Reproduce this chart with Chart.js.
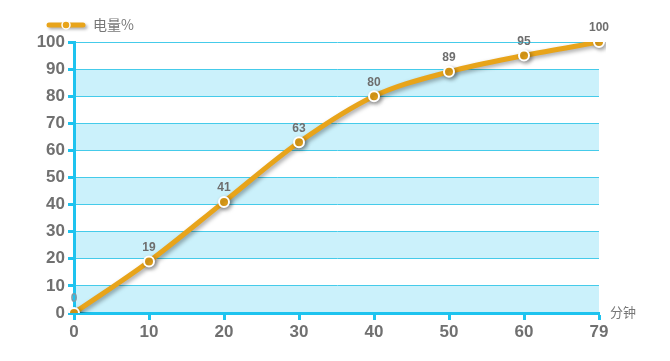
<!DOCTYPE html>
<html>
<head>
<meta charset="utf-8">
<script src="https://cdn.jsdelivr.net/npm/chart.js@4/dist/chart.umd.min.js"></script>
<style>
  body { margin: 0; background: #fff; }
</style>
</head>
<body>
<canvas id="chart" width="670" height="361"></canvas>
<script>
// chart data
var minutes = ["0", "10", "20", "30", "40", "50", "60", "79"];
var charge = [0, 19, 41, 63, 80, 89, 95, 100];
var series_name = "电量%";
var x_title = "分钟";

var line_color = "#E8A41A";
var axis_color = "#1EC3EF";
var grid_color = "#45CBEA";
var band_color = "#CBF1FB";

// light blue bands on every other step
var bands_plugin = {
  id: "bands",
  beforeDraw: function (chart) {
    var ctx = chart.ctx;
    var y = chart.scales.y;
    var area = chart.chartArea;
    ctx.save();
    ctx.fillStyle = band_color;
    for (var v = 0; v < 100; v += 20) {
      var top = y.getPixelForValue(v + 10);
      var bottom = y.getPixelForValue(v);
      ctx.fillRect(area.left, top, area.right - area.left, bottom - top);
    }
    ctx.restore();
  }
};

// shadow under the line
var shadow_plugin = {
  id: "shadow",
  beforeDatasetsDraw: function (chart) {
    var ctx = chart.ctx;
    ctx.save();
    ctx.shadowColor = "rgba(0,0,0,0.35)";
    ctx.shadowBlur = 4;
    ctx.shadowOffsetX = 2;
    ctx.shadowOffsetY = 2;
  },
  afterDatasetsDraw: function (chart) {
    chart.ctx.restore();
  }
};

// value labels, legend and axis title
var labels_plugin = {
  id: "labels",
  afterDraw: function (chart) {
    var ctx = chart.ctx;
    var meta = chart.getDatasetMeta(0);
    ctx.save();
    ctx.font = "bold 12px Arial, 'Liberation Sans', sans-serif";
    ctx.fillStyle = "#6E6E6E";
    ctx.textAlign = "center";
    ctx.textBaseline = "bottom";
    $each(meta.data, function (i, pt) {
      ctx.fillStyle = i === 0 ? "#7E9AA6" : "#6E6E6E";
      ctx.fillText(String(charge[i]), pt.x, pt.y - 8);
    });

    // legend
    ctx.lineCap = "round";
    ctx.strokeStyle = line_color;
    ctx.lineWidth = 5;
    ctx.shadowColor = "rgba(0,0,0,0.3)";
    ctx.shadowBlur = 3;
    ctx.shadowOffsetX = 2;
    ctx.shadowOffsetY = 2;
    ctx.beginPath();
    ctx.moveTo(49, 25);
    ctx.lineTo(83, 25);
    ctx.stroke();
    ctx.shadowColor = "transparent";
    ctx.beginPath();
    ctx.arc(66, 25, 4, 0, Math.PI * 2);
    ctx.fillStyle = line_color;
    ctx.fill();
    ctx.lineWidth = 1.5;
    ctx.strokeStyle = "#fff";
    ctx.stroke();
    ctx.font = "14px 'Noto Sans CJK SC', sans-serif";
    ctx.fillStyle = "#777";
    ctx.textAlign = "left";
    ctx.textBaseline = "middle";
    ctx.fillText(series_name, 93, 25);

    // x axis title
    ctx.font = "13px 'Noto Sans CJK SC', sans-serif";
    ctx.fillText(x_title, 610, 312);
    ctx.restore();
  }
};

function $each(arr, fn) {
  for (var i = 0; i < arr.length; i++) fn(i, arr[i]);
}

var chart_instance = new Chart(document.getElementById("chart"), {
  type: "line",
  data: {
    labels: minutes,
    datasets: [{
      label: series_name,
      data: charge,
      borderColor: line_color,
      borderWidth: 5,
      cubicInterpolationMode: "monotone",
      pointRadius: 5,
      pointBorderWidth: 2,
      pointBorderColor: "#fff",
      pointBackgroundColor: line_color
    }]
  },
  options: {
    responsive: false,
    animation: false,
    layout: { padding: { top: 42, right: 71, bottom: 0, left: 0 } },
    plugins: {
      legend: { display: false },
      tooltip: { enabled: false }
    },
    scales: {
      x: {
        offset: false,
        afterFit: function (scale) { scale.height = 48; },
        grid: {
          drawOnChartArea: false,
          tickLength: 7,
          tickWidth: 3,
          tickColor: axis_color
        },
        border: { color: axis_color, width: 3 },
        ticks: {
          color: "#707070",
          font: { size: 17, weight: "bold", family: "Arial, 'Liberation Sans', sans-serif" },
          padding: 2,
          maxRotation: 0
        }
      },
      y: {
        min: 0,
        max: 100,
        afterFit: function (scale) { scale.width = 74; },
        grid: {
          color: grid_color,
          lineWidth: 1,
          tickLength: 6,
          tickWidth: 3,
          tickColor: axis_color
        },
        border: { color: axis_color, width: 3 },
        ticks: {
          stepSize: 10,
          color: "#707070",
          font: { size: 17, weight: "bold", family: "Arial, 'Liberation Sans', sans-serif" },
          padding: 3
        }
      }
    }
  },
  plugins: [bands_plugin, shadow_plugin, labels_plugin]
});
</script>
</body>
</html>
